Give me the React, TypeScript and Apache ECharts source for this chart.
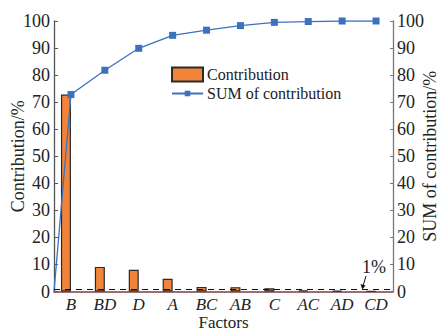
import React, { useEffect, useRef } from "react";
import * as echarts from "echarts";

const categories = ["B", "BD", "D", "A", "BC", "AB", "C", "AC", "AD", "CD"];
const contribution = [72.8, 9.1, 8.0, 4.7, 1.7, 1.6, 1.2, 0.4, 0.3, 0.2];
const cumulative = [72.8, 81.8, 89.9, 94.7, 96.6, 98.3, 99.5, 99.8, 100, 100];
const yTicks = { min: 0, max: 100, interval: 10 };
const threshold = 1;
const legendNames = ["Contribution", "SUM of contribution"];

const FONT = "Liberation Serif";

export default function App() {
  const ref = useRef<HTMLDivElement>(null);
  useEffect(() => {
    document.body.style.margin = "0";
    const chart = echarts.init(ref.current!, null, { renderer: "svg" });
    const lineData: any[] = [{ value: [0, 0], symbol: "none" }];
    cumulative.forEach((v, i) => lineData.push([i + 0.5, v]));
    const axisText = { fontFamily: FONT, fontSize: 18, color: "#222" };
    const xText = { fontFamily: FONT, fontSize: 17, lineHeight: 17, color: "#222" };
    chart.setOption({
      animation: false,
      textStyle: { fontFamily: FONT },
      grid: { left: 54, right: 49, top: 21, bottom: 38.5, outerBoundsMode: "none", containLabel: false },
      legend: [
        {
          left: 171,
          top: 66.5,
          padding: 0,
          itemWidth: 31,
          itemHeight: 14,
          icon: "rect",
          textStyle: { fontFamily: FONT, fontSize: 16, color: "#222", padding: [0, 0, 0, -1] },
          data: [legendNames[0]],
        },
        {
          left: 171,
          top: 85.5,
          padding: 0,
          itemWidth: 31,
          itemHeight: 7,
          textStyle: { fontFamily: FONT, fontSize: 16, color: "#222", padding: [0, 0, 0, -1] },
          data: [legendNames[1]],
        },
      ],
      xAxis: [
        {
          type: "category",
          data: categories,
          axisTick: { show: false },
          axisLine: { lineStyle: { color: "#7a4040", width: 1.5 } },
          axisLabel: { ...xText, fontStyle: "italic", margin: 4 },
          name: "Factors",
          nameLocation: "middle",
          nameGap: 22,
          nameMoveOverlap: false,
          nameTextStyle: { ...xText, verticalAlign: "top" },
        },
        { type: "value", min: 0, max: 10, show: false },
      ],
      yAxis: [
        {
          type: "value",
          ...yTicks,
          name: "Contribution/%",
          nameLocation: "middle",
          nameGap: 27,
          nameMoveOverlap: false,
          nameRotate: 90,
          nameTextStyle: { ...axisText },
          axisLine: { show: true, lineStyle: { color: "#555", width: 1.3 } },
          axisTick: { show: true, inside: true, length: 4, lineStyle: { color: "#555" } },
          axisLabel: { ...axisText, margin: 4 },
          splitLine: { show: false },
        },
        {
          type: "value",
          ...yTicks,
          name: "SUM of contribution/%",
          nameLocation: "middle",
          nameGap: 28,
          nameMoveOverlap: false,
          nameRotate: 90,
          nameTextStyle: { ...axisText },
          axisLine: { show: true, lineStyle: { color: "#777", width: 1.3 } },
          axisTick: { show: true, inside: true, length: 3, lineStyle: { color: "#777" } },
          axisLabel: { ...axisText, margin: 4 },
          splitLine: { show: false },
        },
      ],
      series: [
        {
          name: legendNames[0],
          type: "bar",
          data: contribution,
          barWidth: 10,
          barGap: 0,
          itemStyle: { color: "#F2843A", borderColor: "#2a2a2a", borderWidth: 1.2 },
          markLine: {
            silent: true,
            symbol: "none",
            label: { show: false },
            lineStyle: { type: [6, 5], color: "#111", width: 1 },
            data: [{ yAxis: threshold }],
          },
        },
        {
          name: "pad",
          type: "bar",
          data: contribution.map(() => null),
          barWidth: 10,
          barGap: 0,
        },
        {
          name: legendNames[1],
          type: "line",
          xAxisIndex: 1,
          yAxisIndex: 1,
          data: lineData,
          symbol: "rect",
          symbolSize: 7,
          color: "#3A72C0",
          lineStyle: { width: 1.3, color: "#3A72C0" },
          itemStyle: { color: "#3A72C0" },
        },
      ],
      graphic: [
        {
          type: "text",
          left: 362,
          top: 258,
          style: { text: "1%", font: `18px ${FONT}`, fill: "#222" },
        },
        {
          type: "line",
          shape: { x1: 366, y1: 276, x2: 363, y2: 286 },
          style: { stroke: "#111", lineWidth: 1 },
        },
        {
          type: "polygon",
          shape: { points: [[360.5, 284], [365.5, 285.5], [362.3, 289.5]] },
          style: { fill: "#111" },
        },
      ],
    });
    return () => chart.dispose();
  }, []);
  return <div ref={ref} style={{ width: 442, height: 330, position: "absolute", left: 0, top: 0 }} />;
}
